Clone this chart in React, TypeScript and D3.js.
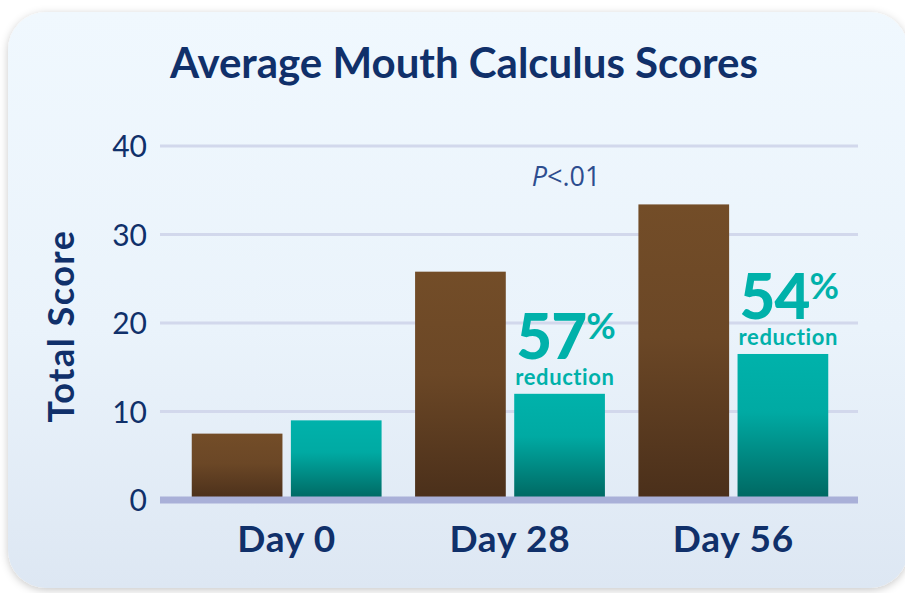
import React, {useEffect, useRef} from "react";
import * as d3 from "d3";

const days = ["Day 0", "Day 28", "Day 56"];
const groups = ["Control", "Treated"];
const controlScores = [7.5, 25.8, 33.4];
const treatedScores = [9.0, 12.0, 16.5];
const reductions = [null, 57, 54];
const yTicks = [0, 10, 20, 30, 40];
const pValueLabel = "<.01";

const W = 905, H = 593;
const NAVY = "#10306a";
const TEAL = "#00b1aa";
const FONT = "Lato, 'Open Sans', sans-serif";

function drawChart(svgEl: SVGSVGElement) {
  const svg = d3.select(svgEl);
  svg.selectAll("*").remove();

  const defs = svg.append("defs");
  const card = defs.append("linearGradient").attr("id", "card-bg").attr("x1", 0).attr("y1", 0).attr("x2", 0).attr("y2", 1);
  card.append("stop").attr("offset", "0%").attr("stop-color", "#f0f8fe");
  card.append("stop").attr("offset", "55%").attr("stop-color", "#eaf3fb");
  card.append("stop").attr("offset", "100%").attr("stop-color", "#dde7f3");

  const brown = defs.append("linearGradient").attr("id", "bar-brown").attr("x1", 0).attr("y1", 0).attr("x2", 0).attr("y2", 1);
  brown.append("stop").attr("offset", "0%").attr("stop-color", "#734d28");
  brown.append("stop").attr("offset", "45%").attr("stop-color", "#6b4726");
  brown.append("stop").attr("offset", "100%").attr("stop-color", "#4a2f1a");

  const teal = defs.append("linearGradient").attr("id", "bar-teal").attr("x1", 0).attr("y1", 0).attr("x2", 0).attr("y2", 1);
  teal.append("stop").attr("offset", "0%").attr("stop-color", "#00b2ab");
  teal.append("stop").attr("offset", "40%").attr("stop-color", "#00aaa3");
  teal.append("stop").attr("offset", "100%").attr("stop-color", "#006660");

  const shadow = defs.append("filter").attr("id", "card-shadow").attr("x", "-5%").attr("y", "-5%").attr("width", "110%").attr("height", "110%");
  shadow.append("feDropShadow").attr("dx", 0).attr("dy", 2).attr("stdDeviation", 4).attr("flood-color", "#000").attr("flood-opacity", 0.22);

  // card
  svg.append("rect")
    .attr("x", 8).attr("y", 12).attr("width", 900).attr("height", 576)
    .attr("rx", 38).attr("fill", "url(#card-bg)")
    .attr("filter", "url(#card-shadow)");

  svg.append("text")
    .attr("x", 464).attr("y", 78)
    .attr("text-anchor", "middle")
    .attr("font-family", FONT).attr("font-weight", 700).attr("font-size", 42)
    .attr("fill", NAVY)
    .text("Average Mouth Calculus Scores");

  const yScale = d3.scaleLinear().domain([0, 40]).range([500, 146]);
  const x0 = d3.scaleBand().domain(days).range([175, 845]).paddingInner(0.15).paddingOuter(0.075);
  const x1 = d3.scaleBand().domain(groups).range([0, x0.bandwidth()]).paddingInner(0.085);

  // gridlines
  svg.append("g").selectAll("line")
    .data(yTicks.filter((t) => t > 0))
    .join("line")
    .attr("x1", 160).attr("x2", 858)
    .attr("y1", (d) => yScale(d)).attr("y2", (d) => yScale(d))
    .attr("stroke", "#d2d8ec").attr("stroke-width", 3);

  // y tick labels
  svg.append("g").selectAll("text")
    .data(yTicks)
    .join("text")
    .attr("x", 147)
    .attr("y", (d) => yScale(d) + 11)
    .attr("text-anchor", "end")
    .attr("font-family", FONT).attr("font-size", 30)
    .attr("fill", NAVY)
    .text((d) => d);

  svg.append("text")
    .attr("transform", "translate(74," + (yScale(20) + 3) + ") rotate(-90)")
    .attr("text-anchor", "middle")
    .attr("font-family", FONT).attr("font-weight", 700).attr("font-size", 36)
    .attr("letter-spacing", 1.5)
    .attr("fill", NAVY)
    .text("Total Score");

  const rows = days.map((day, i) => ({day, values: [controlScores[i], treatedScores[i]], reduction: reductions[i]}));

  const groupSel = svg.append("g").selectAll("g")
    .data(rows)
    .join("g")
    .attr("transform", (d) => "translate(" + x0(d.day) + ",0)");

  groupSel.selectAll("rect")
    .data((d) => d.values.map((v, j) => ({group: groups[j], value: v})))
    .join("rect")
    .attr("x", (d) => x1(d.group)!)
    .attr("width", x1.bandwidth())
    .attr("y", (d) => yScale(d.value))
    .attr("height", (d) => yScale(0) - yScale(d.value))
    .attr("fill", (d) => d.group === "Control" ? "url(#bar-brown)" : "url(#bar-teal)");

  // reduction callouts above treated bars
  const callouts = groupSel.filter((d) => d.reduction !== null);
  const big = callouts.append("text")
    .attr("x", x1("Treated")! + 2)
    .attr("y", (d) => yScale(d.values[1]) - 35)
    .attr("font-family", FONT).attr("font-weight", 900)
    .attr("fill", TEAL);
  big.append("tspan").attr("font-size", 62).attr("letter-spacing", -1).text((d) => d.reduction);
  big.append("tspan").attr("font-size", 36).attr("dy", -20).attr("font-weight", 700).text("%");

  callouts.append("text")
    .attr("x", x1("Treated")! + 1)
    .attr("y", (d) => yScale(d.values[1]) - 9)
    .attr("font-family", FONT).attr("font-weight", 700).attr("font-size", 22)
    .attr("letter-spacing", 0.6)
    .attr("fill", TEAL)
    .text("reduction");

  // P value
  const p = svg.append("text")
    .attr("x", (x0("Day 28")! + x0.bandwidth() + x0("Day 56")!) / 2 - 90)
    .attr("y", yScale(36) + 5)
    .attr("font-family", "'Open Sans', sans-serif").attr("font-size", 27)
    .attr("fill", "#2d4d8f");
  p.append("tspan").attr("font-style", "italic").text("P");
  p.append("tspan").text(pValueLabel);

  // baseline
  svg.append("line")
    .attr("x1", 160).attr("x2", 858)
    .attr("y1", yScale(0)).attr("y2", yScale(0))
    .attr("stroke", "#a9b0d8").attr("stroke-width", 7);

  // x labels
  svg.append("g").selectAll("text")
    .data(days)
    .join("text")
    .attr("x", (d) => x0(d)! + x0.bandwidth() / 2)
    .attr("y", 552)
    .attr("text-anchor", "middle")
    .attr("font-family", FONT).attr("font-weight", 700).attr("font-size", 37)
    .attr("letter-spacing", 0.8)
    .attr("fill", NAVY)
    .text((d) => d);
}

export default function App() {
  const ref = useRef<SVGSVGElement>(null);
  useEffect(() => {
    if (ref.current) drawChart(ref.current);
  }, []);
  return (
    <svg ref={ref} width={W} height={H}
      style={{position: "absolute", left: 0, top: 0, background: "#ffffff", display: "block"}} />
  );
}
